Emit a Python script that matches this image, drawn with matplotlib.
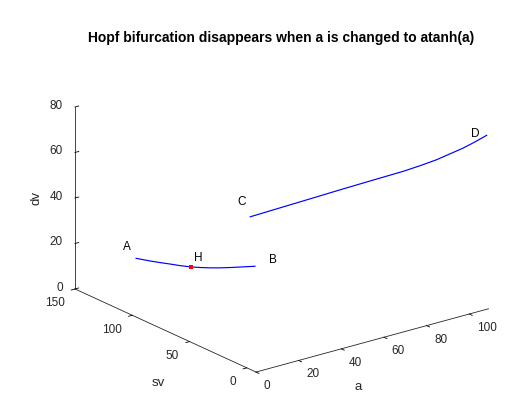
import numpy as np
import matplotlib.pyplot as plt
from matplotlib.transforms import ScaledTranslation
from mpl_toolkits.mplot3d import proj3d

plt.rcParams['font.family'] = ['Liberation Sans', 'DejaVu Sans']

# branch A-B, carries the Hopf point H
ab_a = [0] * 12
ab_sv = [96.7, 84.5, 75.8, 67.0, 58.3, 48.7, 40.9, 32.1, 23.4, 14.7, 6.0, -7.1]
ab_dv = [25.8, 27.45, 28.76, 30.15, 31.46, 33.11, 34.66, 36.54, 38.55, 40.7, 42.93, 46.3]

# branch C-D, after a -> atanh(a)
cd_a = [0, 12.8, 28.1, 43.3, 56.3, 70.0, 77.65, 85.3, 97.45, 102.8, 108.16]
cd_sv = [-3.0, -3.6, -4.3, -5.0, -5.6, -6.2, -6.6, -6.9, -7.5, -7.75, -8.0]
cd_dv = [67.1, 67.67, 68.33, 69.0, 69.49, 69.97, 70.56, 71.33, 73.5, 74.88, 76.47]

# Hopf point
hopf_a, hopf_sv, hopf_dv = 0, 48.7, 33.11

# point names
names = ['A', 'B', 'C', 'D', 'H']
name_a = [0, 7.8, 0, 102.7, 0]
name_sv = [104.8, -8, 4.5, -8, 42.8]
name_dv = [28.9, 47.3, 72.0, 78.4, 38.2]

a_ticks = [0, 20, 40, 60, 80, 100]
sv_ticks = [0, 50, 100, 150]
dv_ticks = [0, 20, 40, 60, 80]
a_lim = (0, 109)
sv_lim = (-8, 150)
dv_lim = (0, 80)

W, H = 526, 403
dark = '#262626'

fig = plt.figure(figsize=(W / 100, H / 100), dpi=100)
ax = fig.add_axes([0.1, 0.1, 0.8, 0.8], projection='3d', proj_type='ortho')
ax.view_init(elev=20.7, azim=-127.6)
ax.set_box_aspect((1, 1.011, 0.663))
ax.set_xlim(*a_lim, view_margin=0)
ax.set_ylim(*sv_lim, view_margin=0)
ax.set_zlim(*dv_lim, view_margin=0)


def shifted(dx, dy):
    # data position plus a shift in pixels
    return ax.transData + ScaledTranslation(dx / 100, dy / 100, fig.dpi_scale_trans)


ax.plot(ab_a, ab_sv, ab_dv, color='blue', lw=0.85)
ax.plot(cd_a, cd_sv, cd_dv, color='blue', lw=0.85)
ax.plot([hopf_a], [hopf_sv], [hopf_dv], 's', color='red', ms=2.5, mew=0)
for s, x, y, z in zip(names, name_a, name_sv, name_dv):
    ax.text(x, y, z, s, fontsize=8.5, ha='center', va='center')

# axes: lines and ticks only, MATLAB style
ax.set_xticks(a_ticks)
ax.set_yticks(sv_ticks)
ax.set_zticks(dv_ticks)
ax.grid(False)
for axis, inw, outw in ((ax.xaxis, 0.2, 0.0), (ax.yaxis, 0.2, 0.0), (ax.zaxis, 0.0, 0.2)):
    axis.set_tick_params(labelbottom=False, labelleft=False)
    axis.label.set_visible(False)
    axis.offsetText.set_visible(False)
    axis.set_pane_color((1, 1, 1, 0))
    axis.pane.set_edgecolor((1, 1, 1, 0))
    axis.line.set_color(dark)
    axis.line.set_linewidth(0.6)
    axis._axinfo['tick']['inward_factor'] = inw
    axis._axinfo['tick']['outward_factor'] = outw
    axis._axinfo['tick']['color'] = dark
    axis._axinfo['tick']['linewidth'] = {True: 0.6, False: 0.4}

tick_kw = dict(fontsize=8.5, color=dark)
for t in a_ticks:
    ax.text(t, sv_lim[0], dv_lim[0], str(t), ha='left', va='top',
            transform=shifted(7.5, -8), **tick_kw)
for t in sv_ticks:
    ax.text(a_lim[0], t, dv_lim[0], str(t), ha='right', va='top',
            transform=shifted(-10.5, -8.5), **tick_kw)
for t in dv_ticks:
    ax.text(a_lim[0], sv_lim[1], t, str(t), ha='right', va='center',
            transform=shifted(-12, 1), **tick_kw)

ax.text(48, -8, -19, 'a', fontsize=9.5, color=dark, ha='center', va='center')
ax.text(0, 77.3, -24.5, 'sv', fontsize=9.5, color=dark, ha='center', va='center')
ax.text(-18, 150, 44.6, 'dv', zdir='z', fontsize=9.5, color=dark, ha='center', va='center')

fig.text(0.535, 1 - 38 / H, 'Hopf bifurcation disappears when a is changed to atanh(a)',
         ha='center', va='center', fontsize=10, fontweight='bold')

# fit the projected box onto the reference corners (pixels from top-left)
corners = np.array([[a_lim[0], sv_lim[0], dv_lim[0]],
                    [a_lim[1], sv_lim[0], dv_lim[0]],
                    [a_lim[0], sv_lim[1], dv_lim[0]],
                    [a_lim[0], sv_lim[1], dv_lim[1]]])
target = np.array([[256, 372], [488.5, 308.8], [75, 289], [75, 107]], float)
target[:, 1] = H - target[:, 1]
for _ in range(2):
    fig.canvas.draw()
    xs, ys, _z = proj3d.proj_transform(corners[:, 0], corners[:, 1], corners[:, 2], ax.get_proj())
    got = ax.transData.transform(np.column_stack([xs, ys]))
    pos = ax.get_position()
    side = pos.width * W
    cen = np.array([(pos.x0 + pos.width / 2) * W, (pos.y0 + pos.height / 2) * H])
    gm, tm = got.mean(0), target.mean(0)
    k = np.sqrt(((target - tm) ** 2).sum() / ((got - gm) ** 2).sum())
    new_cen = tm - k * (gm - cen)
    s = side * k
    ax.set_position([(new_cen[0] - s / 2) / W, (new_cen[1] - s / 2) / H, s / W, s / H])

fig.savefig('out.png', dpi=100)
